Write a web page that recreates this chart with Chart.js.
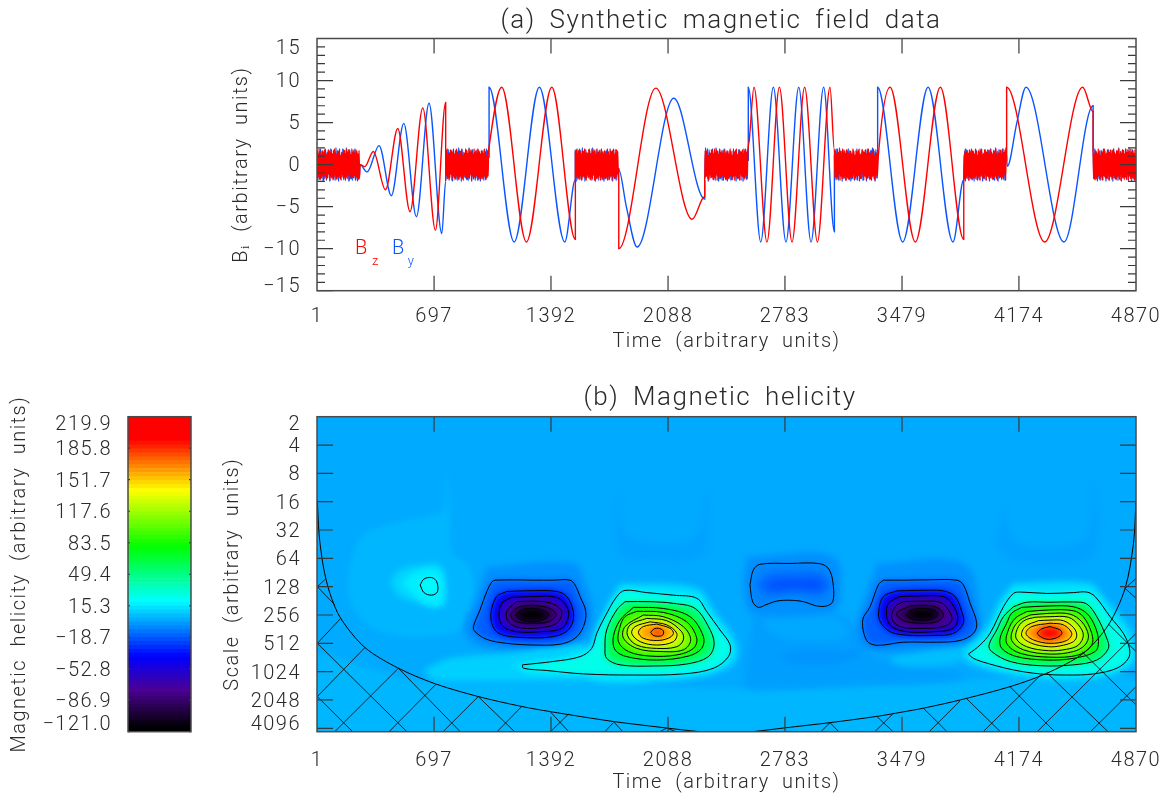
<!DOCTYPE html>
<html>
<head>
<meta charset="utf-8">
<title>Synthetic magnetic field data</title>
<script src="https://cdn.jsdelivr.net/npm/chart.js@4"></script>
<style>
  html, body { margin: 0; background: #fff; overflow: hidden; }
  canvas { position: absolute; }
  #fieldChart { left: 220px; top: 0; }
  #helicityChart { left: 205px; top: 380px; }
  #barChart { left: 0; top: 380px; }
</style>
</head>
<body>
<canvas id="fieldChart" width="1002" height="360"></canvas>
<canvas id="helicityChart" width="1030" height="415"></canvas>
<canvas id="barChart" width="205" height="415"></canvas>
<script>
// axis ticks
const timeTicks = [1, 697, 1392, 2088, 2783, 3479, 4174, 4870];
const fieldTicks = [-15, -10, -5, 0, 5, 10, 15];
const fieldMinor = [-14, -13, -12, -11, -9, -8, -7, -6, -4, -3, -2, -1, 1, 2, 3, 4, 6, 7, 8, 9, 11, 12, 13, 14];
const octaveTicks = [1, 2, 3, 4, 5, 6, 7, 8, 9, 10, 11, 12];
const scaleLabels = ['2', '4', '8', '16', '32', '64', '128', '256', '512', '1024', '2048', '4096'];
const barTicks = [-121.0, -86.9, -52.8, -18.7, 15.3, 49.4, 83.5, 117.6, 151.7, 185.8, 219.9];

// colour table
const stopValues = [-121, -117, -76, -40, 20, 79, 140, 195, 220];
const stopR = [0, 0, 75, 0, 0, 0, 255, 255, 255];
const stopG = [0, 0, 0, 0, 255, 255, 255, 0, 0];
const stopB = [0, 0, 150, 255, 255, 0, 0, 0, 0];
const barEdges = [-121, -116.8, -112.5, -108.3, -104, -99.8, -95.5, -91.3, -87, -82.8, -78.5, -74.3, -70, -65.8, -61.5, -57.3, -53, -48.8, -44.5, -40.3, -36, -31.8, -27.5, -23.3, -19, -14.8, -10.5, -6.3, -2, 2.3, 6.5, 10.8, 15, 19.3, 23.5, 27.8, 32, 36.3, 40.5, 44.8, 49, 53.3, 57.5, 61.8, 66, 70.3, 74.5, 78.8, 83, 87.3, 91.5, 95.8, 100, 104.3, 108.5, 112.8, 117, 121.3, 125.5, 129.8, 134, 138.3, 142.5, 146.8, 151, 155.3, 159.5, 163.8, 168, 172.3, 176.5, 180.8, 185, 189.3, 193.5, 197.8, 202, 206.3, 210.5, 215.2, 219.9];

// panel (a): the quiet stretches
const noiseBz = [1.6, -1.7, 1.3, -1.5, 1.9, -1.2, 1.6, -1.8, 1.1, -1.6, 1.7, -1.4, 1.5, -1.9, 1.7, -1.3, 1.9, -1.5, 1.2, -1.7, 1.4, -1.6, 1.8, -1.1, 1.6, -1.9, 1.5, -1.4, 1.8, -1.5, 1.3, -1.8, 1.7, -1.6, 1.9, -1.3, 1.5, -1.7, 1.2, -1.8, 1.7, -1.5, 1.6, -1.4, 1.9, -1.7, 1.1, -1.9, 1.5, -1.2, 1.4, -1.6, 1.8, -1.5, 1.7, -1.8, 1.3, -1.5, 1.9, -1.7, 1.5, -1.1, 1.8, -1.9, 1.6, -1.4, 1.2, -1.7, 1.9, -1.5, 1.5, -1.6, 1.7, -1.3, 1.4, -1.9, 1.8, -1.5, 1.6, -1.7, 1.3, -1.8, 1.7, -1.5];
const noiseBy = [1.7, -1.9, 1.2, -1.8, 1.9, -1.4, 1.6, -2.0, 1.0, -1.7, 1.8, -1.9, 1.5, -1.2, 1.7, -2.0, 1.9, -1.6, 1.3, -1.8, 1.7, -1.9, 2.0, -1.1, 1.6, -2.0, 1.8, -1.6, 1.1, -1.5, 1.9, -1.8, 1.4, -1.9, 2.0, -1.3, 1.6, -2.0, 1.8, -1.7, 1.2, -1.9, 1.7, -1.6, 1.9, -1.8, 1.5, -2.0, 1.0, -1.7];
const noiseStarts = [1, 766, 1537, 2306, 3077, 3846, 4615];
const noiseEnds = [257, 1024, 1795, 2565, 3334, 4101, 4870];

// panel (a): the wave trains, [time, value]
const bzWave1 = [[257, 0], [285, -0.24], [336, 1.55], [408, -3.0], [481, 4.3], [554, -5.6], [630, 6.75], [705, -7.8], [766, 7.4]];
const bzWave2 = [[1024, 2.1], [1099, 9.2], [1246, -9.2], [1397, 9.2], [1537, -8.9]];
const bzWave3 = [[1795, -0.5], [1795, -10.0], [2015, 9.1], [2231, -6.5], [2306, -3.8]];
const bzWave4 = [[2571, 2.9], [2599, 9.2], [2676, -9.2], [2750, 9.2], [2825, -9.2], [2900, 9.2], [2976, -9.2], [3051, 9.2], [3077, 1.7]];
const bzWave5 = [[3338, 1.0], [3408, 9.2], [3558, -9.2], [3707, 9.2], [3846, -8.9]];
const bzWave6 = [[4101, 0.5], [4101, 9.2], [4327, -9.2], [4553, 9.2], [4615, 6.3]];
const byWave1 = [[257, 0], [299, -0.87], [370, 2.26], [443, -3.7], [517, 4.9], [592, -6.2], [667, 7.3], [743, -8.2], [766, -2.0]];
const byWave2 = [[1024, 0.9], [1024, 9.2], [1173, -9.2], [1323, 9.2], [1474, -9.2], [1537, -1.8]];
const byWave3 = [[1795, -0.6], [1840, -5.0], [1904, -9.8], [2122, 7.9], [2306, -4.1]];
const byWave4 = [[2565, 0.5], [2565, 9.2], [2639, -9.2], [2714, 9.2], [2789, -9.2], [2865, 9.2], [2938, -9.2], [3013, 9.2], [3077, -8.0]];
const byWave5 = [[3334, 0.5], [3334, 9.2], [3483, -9.2], [3634, 9.2], [3782, -9.2], [3846, -1.8]];
const byWave6 = [[4105, -0.2], [4161, 4.9], [4216, 9.2], [4442, -9.2], [4615, 7.0]];
const bzWaves = [bzWave1, bzWave2, bzWave3, bzWave4, bzWave5, bzWave6];
const byWaves = [byWave1, byWave2, byWave3, byWave4, byWave5, byWave6];

// panel (b): closed contours, [time, log2 of scale]
const ringA0 = [[1059, 6.77], [1168, 6.76], [1287, 6.77], [1406, 6.77], [1505, 6.77], [1535, 6.94], [1565, 7.35], [1599, 7.88], [1585, 8.41], [1535, 8.82], [1446, 9.03], [1287, 9.06], [1129, 9.0], [1010, 8.86], [941, 8.59], [931, 8.41], [970, 7.82], [1010, 7.18], [1040, 6.83]];
const ringA1 = [[1129, 7.17], [1287, 7.14], [1426, 7.17], [1486, 7.35], [1525, 7.88], [1515, 8.35], [1466, 8.65], [1367, 8.79], [1248, 8.8], [1129, 8.74], [1069, 8.59], [1040, 8.29], [1036, 7.88], [1069, 7.35]];
const ringA2 = [[1159, 7.38], [1287, 7.35], [1426, 7.38], [1486, 7.71], [1496, 8.06], [1456, 8.47], [1327, 8.59], [1188, 8.59], [1109, 8.41], [1083, 8.06], [1099, 7.59]];
const ringA3 = [[1188, 7.53], [1287, 7.51], [1396, 7.59], [1456, 7.88], [1426, 8.29], [1327, 8.45], [1208, 8.45], [1139, 8.24], [1129, 7.88]];
const ringA4 = [[1287, 7.65], [1387, 7.77], [1422, 8.0], [1377, 8.24], [1287, 8.29], [1188, 8.24], [1153, 8.0], [1198, 7.73]];
const ringA5 = [[1184, 8.0], [1218, 7.82], [1277, 7.77], [1337, 7.82], [1377, 8.0], [1337, 8.18], [1277, 8.24], [1218, 8.18]];
const ringS = [[614, 6.94], [637, 6.73], [683, 6.68], [713, 6.83], [717, 7.18], [683, 7.3], [637, 7.21]];
const ringB0 = [[1222, 9.76], [1406, 9.64], [1565, 9.47], [1634, 9.18], [1664, 8.65], [1713, 8.06], [1783, 7.35], [1832, 7.13], [1961, 7.21], [2120, 7.3], [2259, 7.41], [2318, 7.88], [2397, 8.53], [2457, 9.06], [2447, 9.47], [2358, 9.88], [2179, 10.08], [1882, 10.12], [1585, 10.08], [1367, 9.96], [1228, 9.88]];
const ringB1 = [[1832, 7.53], [1981, 7.53], [2120, 7.59], [2249, 7.77], [2328, 8.41], [2362, 9.0], [2328, 9.47], [2199, 9.73], [2001, 9.8], [1803, 9.76], [1723, 9.53], [1713, 9.18], [1723, 8.53], [1783, 7.82]];
const ringB2 = [[1882, 7.73], [2060, 7.77], [2219, 8.06], [2298, 8.76], [2288, 9.18], [2209, 9.45], [2021, 9.59], [1842, 9.47], [1773, 9.23], [1763, 8.76], [1803, 8.18]];
const ringB3 = [[1902, 7.87], [2060, 7.91], [2199, 8.24], [2259, 8.82], [2239, 9.18], [2140, 9.41], [1981, 9.45], [1852, 9.29], [1793, 8.94], [1803, 8.41], [1832, 8.06]];
const ringB4 = [[1941, 8.0], [2060, 8.06], [2179, 8.41], [2223, 8.88], [2179, 9.23], [2041, 9.29], [1902, 9.18], [1823, 8.82], [1832, 8.41]];
const ringB5 = [[1961, 8.12], [2080, 8.2], [2169, 8.59], [2179, 8.88], [2140, 9.12], [2021, 9.18], [1902, 9.06], [1846, 8.71], [1862, 8.35]];
const ringB6 = [[1981, 8.24], [2080, 8.35], [2140, 8.65], [2120, 8.94], [2021, 9.06], [1922, 8.94], [1872, 8.65], [1892, 8.41]];
const ringB7 = [[2021, 8.32], [2100, 8.47], [2120, 8.65], [2090, 8.82], [2021, 8.9], [1941, 8.82], [1912, 8.61], [1941, 8.41]];
const ringB8 = [[1985, 8.61], [2005, 8.49], [2031, 8.47], [2060, 8.56], [2056, 8.71], [2025, 8.75], [1997, 8.71]];
const ringC0 = [[3874, 9.38], [3943, 9.06], [4002, 8.65], [4082, 7.71], [4141, 7.24], [4181, 7.19], [4339, 7.24], [4498, 7.21], [4577, 7.19], [4627, 7.35], [4716, 8.06], [4795, 8.65], [4831, 9.18], [4825, 9.53], [4756, 9.88], [4617, 10.08], [4458, 10.12], [4300, 10.08], [4141, 9.94], [3983, 9.7], [3903, 9.53]];
const ringC1 = [[4141, 7.71], [4220, 7.55], [4359, 7.55], [4498, 7.54], [4577, 7.61], [4637, 8.06], [4696, 8.82], [4706, 9.18], [4637, 9.59], [4498, 9.76], [4300, 9.79], [4121, 9.64], [4012, 9.29], [3996, 9.06], [4042, 8.53], [4082, 8.06]];
const ringC2 = [[4191, 7.73], [4359, 7.68], [4498, 7.71], [4577, 7.94], [4627, 8.41], [4647, 8.94], [4627, 9.29], [4498, 9.53], [4339, 9.59], [4161, 9.47], [4072, 9.18], [4062, 8.82], [4101, 8.29], [4131, 7.94]];
const ringC3 = [[4220, 7.88], [4359, 7.82], [4498, 7.85], [4557, 8.06], [4607, 8.65], [4607, 9.06], [4528, 9.41], [4359, 9.49], [4181, 9.35], [4101, 9.0], [4111, 8.53], [4151, 8.12]];
const ringC4 = [[4240, 8.0], [4359, 7.94], [4478, 7.97], [4548, 8.24], [4587, 8.71], [4567, 9.06], [4498, 9.29], [4359, 9.38], [4201, 9.23], [4131, 8.9], [4141, 8.47], [4181, 8.18]];
const ringC5 = [[4270, 8.08], [4359, 8.06], [4468, 8.08], [4528, 8.35], [4557, 8.71], [4528, 9.06], [4458, 9.21], [4349, 9.26], [4220, 9.12], [4157, 8.82], [4171, 8.41], [4211, 8.18]];
const ringC6 = [[4290, 8.2], [4359, 8.18], [4438, 8.2], [4498, 8.44], [4518, 8.71], [4498, 8.94], [4419, 9.09], [4349, 9.12], [4250, 9.0], [4191, 8.74], [4211, 8.41]];
const ringC7 = [[4359, 8.29], [4438, 8.35], [4488, 8.65], [4458, 8.9], [4359, 9.0], [4260, 8.88], [4216, 8.65], [4250, 8.41]];
const ringC8 = [[4359, 8.41], [4419, 8.53], [4429, 8.65], [4403, 8.79], [4349, 8.86], [4310, 8.79], [4284, 8.65], [4310, 8.49]];
const ringD0 = [[3368, 6.77], [3487, 6.77], [3626, 6.76], [3804, 6.77], [3844, 6.94], [3884, 7.59], [3923, 8.29], [3903, 8.65], [3824, 8.9], [3685, 8.96], [3487, 8.96], [3329, 9.07], [3269, 8.9], [3245, 8.18], [3289, 7.71], [3338, 6.94]];
const ringD1 = [[3447, 7.15], [3586, 7.13], [3725, 7.15], [3794, 7.35], [3834, 7.88], [3844, 8.29], [3784, 8.65], [3665, 8.72], [3507, 8.71], [3408, 8.59], [3350, 8.24], [3340, 7.88], [3368, 7.35]];
const ringD2 = [[3467, 7.35], [3586, 7.33], [3725, 7.35], [3774, 7.59], [3810, 8.06], [3784, 8.47], [3665, 8.59], [3507, 8.59], [3418, 8.41], [3388, 8.06], [3398, 7.59]];
const ringD3 = [[3487, 7.53], [3606, 7.51], [3705, 7.55], [3755, 7.82], [3775, 8.18], [3725, 8.41], [3586, 8.47], [3467, 8.41], [3418, 8.12], [3438, 7.71]];
const ringD4 = [[3527, 7.68], [3606, 7.66], [3685, 7.73], [3725, 8.0], [3685, 8.24], [3586, 8.29], [3487, 8.2], [3447, 7.94]];
const ringD5 = [[3503, 7.98], [3537, 7.82], [3596, 7.77], [3665, 7.82], [3691, 7.98], [3656, 8.14], [3596, 8.19], [3537, 8.14]];
const ringE0 = [[2575, 6.94], [2595, 6.41], [2635, 6.21], [2813, 6.18], [2992, 6.19], [3047, 6.41], [3071, 7.0], [3067, 7.53], [3031, 7.68], [2972, 7.68], [2893, 7.53], [2813, 7.48], [2734, 7.51], [2665, 7.65], [2625, 7.73], [2591, 7.53]];

// panel (b): shading that carries no contour line
const shadeE1 = [[2615, 6.94], [2694, 6.53], [2833, 6.5], [2992, 6.53], [3051, 6.94], [2992, 7.3], [2833, 7.22], [2674, 7.3]];
const shadeE2 = [[2665, 6.94], [2754, 6.76], [2853, 6.76], [2972, 6.76], [3011, 6.94], [2972, 7.1], [2853, 7.05], [2714, 7.1]];
const shadeBottom = [[1, 9.3], [600, 10.3], [1500, 10.4], [2400, 10.6], [3400, 10.5], [3900, 10.3], [4870, 10.3], [4870, 13], [1, 13]];
const shadeLeft = [[187, 7.24], [197, 6.3], [267, 5.24], [455, 4.77], [693, 4.48], [752, 4.3], [768, 2.77], [792, 4.42], [802, 5.83], [891, 6.18], [931, 7.0], [891, 8.41], [613, 8.76], [356, 8.53], [237, 7.94]];
const shadeH1 = [[435, 6.83], [495, 6.41], [614, 6.24], [732, 6.24], [762, 6.77], [762, 7.59], [693, 7.73], [594, 7.53], [495, 7.35]];
const shadeH2 = [[505, 6.88], [574, 6.53], [673, 6.36], [742, 6.53], [752, 7.12], [742, 7.59], [673, 7.65], [584, 7.35]];
const shadeP1 = [[1793, 3.24], [1803, 4.65], [1852, 5.24], [2001, 5.47], [2179, 5.47], [2278, 5.0], [2314, 3.6], [2328, 5.12], [2278, 5.94], [2001, 6.06], [1803, 5.83]];
const shadeP2 = [[4092, 4.18], [4121, 5.12], [4220, 5.59], [4478, 5.59], [4587, 5.12], [4617, 3.24], [4647, 5.12], [4577, 6.06], [4141, 6.06], [4042, 5.47]];
const shadeAH = [[1010, 6.3], [1525, 6.18], [1605, 7.0], [1644, 7.94], [1605, 8.76], [1446, 9.23], [1169, 9.29], [931, 9.0], [871, 8.41], [950, 7.35]];
const shadeDH = [[3329, 6.18], [3844, 6.18], [3943, 7.94], [3903, 8.88], [3685, 9.18], [3329, 9.29], [3210, 8.88], [3229, 7.94]];
const shadeEH = [[2556, 5.94], [3071, 5.94], [3110, 7.59], [3031, 7.94], [2595, 7.94], [2536, 7.0]];
const shadeBand = [[633, 9.94], [792, 9.53], [1129, 9.35], [1604, 9.06], [1981, 10.29], [1486, 10.35], [891, 10.35], [693, 10.29]];
const shadeBand2 = [[1149, 9.76], [1406, 9.59], [1624, 9.23], [1684, 9.82], [1287, 10.1]];
const shadeBH = [[1803, 6.88], [2258, 7.06], [2358, 7.82], [2496, 9.0], [2477, 9.7], [2278, 10.18], [1882, 10.35], [1624, 10.17], [1644, 8.88], [1723, 7.71]];
const shadeCH = [[4141, 6.88], [4597, 6.88], [4676, 7.35], [4835, 8.53], [4865, 9.6], [4756, 10.06], [4478, 10.29], [4141, 10.12], [3884, 9.7], [3844, 9.35], [3983, 8.41], [4062, 7.47]];
const shadeLight = [[3408, 9.47], [3626, 9.18], [3923, 9.0], [3844, 9.6], [3586, 9.82], [3428, 9.7]];
const shadeDark = [[2754, 9.41], [2893, 9.23], [3150, 9.26], [3249, 9.18], [3170, 9.59], [2992, 9.76], [2793, 9.65]];
const shadeLowerMid = [[2595, 7.94], [3150, 8.06], [3249, 9.12], [3388, 9.59], [3824, 10.0], [3824, 10.29], [3190, 10.47], [2595, 10.64], [2536, 10.41]];
const shadePatch = [[2674, 7.94], [2972, 7.94], [3150, 8.41], [3130, 8.82], [2853, 8.88], [2674, 8.53]];

// cone of influence and its hatching [t1, o1, t2, o2]
const coneLine = [[3, 3.95], [13, 5.12], [39, 6.3], [78, 7.24], [142, 8.12], [286, 9.15], [485, 9.88], [709, 10.44], [960, 10.88], [1218, 11.23], [1387, 11.41], [1763, 11.76], [2080, 11.99], [2259, 12.11], [2430, 12.2], [2605, 12.11], [2774, 11.99], [3051, 11.8], [3329, 11.58], [3477, 11.43], [3606, 11.29], [3824, 11.0], [4121, 10.53], [4339, 10.06], [4557, 9.35], [4706, 8.35], [4805, 7.06], [4855, 5.47], [4870, 3.95]];
const hatchLines = [
  [3, 7.0, 108, 7.65], [3, 9.0, 534, 12.11], [3, 10.88, 211, 12.11], [485, 9.88, 851, 12.11], [960, 10.88, 1174, 12.11], [1387, 11.41, 1496, 12.11], [1763, 11.76, 1817, 12.11], [2080, 11.99, 2130, 12.11],
  [3, 7.0, 55, 6.71], [3, 9.0, 142, 8.12], [3, 10.88, 286, 9.15], [108, 12.11, 485, 9.88], [431, 12.11, 709, 10.44], [752, 12.11, 960, 10.88], [1073, 12.11, 1218, 11.23], [1391, 12.11, 1496, 11.5], [1714, 12.11, 1763, 11.8], [2041, 12.11, 2080, 11.99],
  [2998, 12.11, 3051, 11.8], [3319, 12.11, 3428, 11.47], [3642, 12.11, 3824, 11.03], [3963, 12.11, 4310, 10.08], [4805, 7.06, 4870, 6.71], [4284, 12.11, 4870, 8.65], [4601, 12.11, 4870, 10.53],
  [3051, 11.8, 3101, 12.11], [3329, 11.58, 3424, 12.11], [3606, 11.29, 3745, 12.11], [3864, 10.96, 4062, 12.11], [4121, 10.53, 4385, 12.11], [4339, 10.03, 4702, 12.11], [4548, 9.29, 4870, 11.17], [4706, 8.32, 4870, 9.29], [4805, 7.06, 4870, 7.41]
];

// [shape, helicity level], drawn in this order
const fieldBaseLevel = 0;
const fieldShapes = [
  [shadeBottom, 3], [shadeLeft, 3], [shadeP1, -2], [shadeP2, -2], [shadeLowerMid, -2.5], [shadePatch, -0.5], [shadeLight, 5], [shadeDark, -5],
  [shadeH1, 10], [shadeH2, 16], [ringS, 19],
  [shadeAH, -6], [shadeDH, -6], [shadeEH, -6],
  [shadeBand, 9], [shadeBand2, 14], [shadeBH, 12], [shadeCH, 12],
  [ringE0, -9], [shadeE1, -15], [shadeE2, -21],
  [ringA0, -18], [ringA1, -42], [ringA2, -62], [ringA3, -78], [ringA4, -92], [ringA5, -118],
  [ringD0, -18], [ringD1, -42], [ringD2, -62], [ringD3, -78], [ringD4, -92], [ringD5, -118],
  [ringB0, 25], [ringB1, 55], [ringB2, 78], [ringB3, 95], [ringB4, 110], [ringB5, 125], [ringB6, 142], [ringB7, 160], [ringB8, 182],
  [ringC0, 25], [ringC1, 55], [ringC2, 78], [ringC3, 95], [ringC4, 110], [ringC5, 125], [ringC6, 142], [ringC7, 165], [ringC8, 205]
];
const contourRings = [ringS, ringE0, ringA0, ringA1, ringA2, ringA3, ringA4, ringA5, ringD0, ringD1, ringD2, ringD3, ringD4, ringD5, ringB0, ringB1, ringB2, ringB3, ringB4, ringB5, ringB6, ringB7, ringB8, ringC0, ringC1, ringC2, ringC3, ringC4, ringC5, ringC6, ringC7, ringC8];

const FONT = 'Roboto';
const INK = '#2a2a2a';
const RED = '#ff0000';
const BLUE = '#0a55ff';

function tickFont(size, endLines) {
  return ctx => ({ family: FONT, weight: 300, size: size, lineHeight: endLines[ctx.index] || 1.2 });
}
function titleOpts(text, top, bottom) {
  return { display: true, text: text, color: INK, padding: { top: top, bottom: bottom }, font: { family: FONT, weight: 300, size: 26, lineHeight: 1.2 } };
}
function axisTitle(text, top, bottom) {
  return { display: true, text: text, color: INK, padding: { top: top, bottom: bottom }, font: { family: FONT, weight: 300, size: 20, lineHeight: 1.2 } };
}
function levelColor(v) {
  let i = 0;
  while (i < stopValues.length - 2 && v > stopValues[i + 1]) i++;
  const f = Math.min(1, Math.max(0, (v - stopValues[i]) / (stopValues[i + 1] - stopValues[i])));
  const mix = a => Math.round(a[i] + (a[i + 1] - a[i]) * f);
  return `rgb(${mix(stopR)},${mix(stopG)},${mix(stopB)})`;
}
function closed(ring) {
  const pts = ring.map(p => ({ x: p[0], y: p[1] }));
  pts.push(pts[0]);
  return pts;
}

// frame and inward tick marks, on the chart's own scales
function framePlugin(marks) {
  return {
    id: 'frame',
    afterDraw(chart) {
      const { ctx, chartArea: a } = chart;
      const xs = chart.scales.x, ys = chart.scales.y;
      ctx.save();
      ctx.strokeStyle = '#3a3a3a';
      ctx.lineWidth = marks.width || 1.2;
      ctx.beginPath();
      (marks.x || []).forEach(v => {
        const px = xs.getPixelForValue(v);
        ctx.moveTo(px, a.top); ctx.lineTo(px, a.top + marks.xLen);
        ctx.moveTo(px, a.bottom); ctx.lineTo(px, a.bottom - marks.xLen);
      });
      (marks.y || []).forEach(v => {
        const py = ys.getPixelForValue(v);
        ctx.moveTo(a.left, py); ctx.lineTo(a.left + marks.yLen, py);
        ctx.moveTo(a.right, py); ctx.lineTo(a.right - marks.yLen, py);
      });
      (marks.yMinor || []).forEach(v => {
        const py = ys.getPixelForValue(v);
        ctx.moveTo(a.left, py); ctx.lineTo(a.left + marks.yLen / 2, py);
        ctx.moveTo(a.right, py); ctx.lineTo(a.right - marks.yLen / 2, py);
      });
      ctx.stroke();
      ctx.strokeStyle = '#4a4a4a';
      ctx.lineWidth = 1.5;
      ctx.strokeRect(a.left, a.top, a.right - a.left, a.bottom - a.top);
      ctx.restore();
    }
  };
}
const spacedText = {
  id: 'spacedText',
  beforeDraw(chart) {
    chart.ctx.letterSpacing = '1.5px';
    chart.ctx.wordSpacing = '6px';
  }
};

// ---------- panel (a) ----------
function buildSeries(noise, waves, shift) {
  const pts = [];
  noiseStarts.forEach((start, s) => {
    const step = (noiseEnds[s] - start) / noise.length;
    noise.forEach((_, i) => {
      pts.push({ x: start + i * step, y: noise[(i + s * shift) % noise.length] });
    });
    if (waves[s]) waves[s].forEach(p => pts.push({ x: p[0], y: p[1] }));
  });
  return pts;
}

const legendTexts = [
  { text: 'B', x: 227, y: -10, size: 20, color: RED },
  { text: 'z', x: 328, y: -11.6, size: 13, color: RED },
  { text: 'B', x: 447, y: -10, size: 20, color: BLUE },
  { text: 'y', x: 541, y: -11.6, size: 13, color: BLUE }
];
const legendPlugin = {
  id: 'inlineLegend',
  afterDatasetsDraw(chart) {
    const { ctx, scales } = chart;
    ctx.save();
    ctx.textBaseline = 'middle';
    legendTexts.forEach(t => {
      ctx.font = `300 ${t.size}px ${FONT}`;
      ctx.fillStyle = t.color;
      ctx.fillText(t.text, scales.x.getPixelForValue(t.x), scales.y.getPixelForValue(t.y));
    });
    ctx.restore();
  }
};

new Chart(document.getElementById('fieldChart'), {
  type: 'line',
  data: {
    datasets: [
      { label: 'Bz', data: buildSeries(noiseBz, bzWaves, 13), borderColor: RED, borderWidth: 1.4, pointRadius: 0, cubicInterpolationMode: 'monotone' },
      { label: 'By', data: buildSeries(noiseBy, byWaves, 7), borderColor: BLUE, borderWidth: 1.4, pointRadius: 0, cubicInterpolationMode: 'monotone' }
    ]
  },
  options: {
    responsive: false,
    animation: false,
    events: [],
    plugins: {
      legend: { display: false },
      tooltip: { enabled: false },
      title: titleOpts('(a) Synthetic magnetic field data', 6, 1.3)
    },
    scales: {
      x: {
        type: 'linear', min: 1, max: 4870,
        grid: { display: false }, border: { display: false },
        afterBuildTicks: s => { s.ticks = timeTicks.map(v => ({ value: v })); },
        afterFit: s => { s.height = 69.3; s.paddingRight = 86; },
        ticks: { color: INK, padding: 6, maxRotation: 0, autoSkip: false, font: { family: FONT, weight: 300, size: 20 }, callback: v => String(v) },
        title: { ...axisTitle('Time (arbitrary units)', 0, 6), align: 'center' }
      },
      y: {
        min: -15, max: 15,
        grid: { display: false }, border: { display: false },
        afterBuildTicks: s => { s.ticks = fieldTicks.map(v => ({ value: v })); },
        afterFit: s => { s.width = 97; },
        ticks: {
          color: INK, padding: 8, labelOffset: 1.5, autoSkip: false,
          font: tickFont(20, { 0: 0.5, 6: 0.85 }),
          callback: v => {
            const t = v < 0 ? '\u2212' + Math.abs(v) : String(v);
            if (v === 15) return ['', t];
            if (v === -15) return [t, ''];
            return t;
          }
        },
        title: axisTitle('B\u1d62 (arbitrary units)', 10, 0)
      }
    }
  },
  plugins: [spacedText, legendPlugin, framePlugin({ x: timeTicks.slice(1, -1), xLen: 15, y: fieldTicks, yLen: 16, yMinor: fieldMinor })]
});

// ---------- panel (b) ----------
const contourDatasets = contourRings.map(r => ({
  data: closed(r), showLine: true, borderColor: '#000', borderWidth: 1, pointRadius: 0, tension: 0.35, fill: false
}));
const hatchPoints = [];
hatchLines.forEach(h => {
  hatchPoints.push({ x: h[0], y: h[1] }, { x: h[2], y: h[3] }, { x: NaN, y: NaN });
});
const lineDatasets = [
  ...contourDatasets,
  { data: coneLine.map(p => ({ x: p[0], y: p[1] })), showLine: true, borderColor: '#000', borderWidth: 1, pointRadius: 0, tension: 0.3, fill: false },
  { data: hatchPoints, showLine: true, borderColor: '#111', borderWidth: 0.9, pointRadius: 0, fill: false }
];
const fieldDatasets = fieldShapes.map(s => ({
  data: closed(s[0]), showLine: true, borderWidth: 0, borderColor: 'rgba(0,0,0,0)', pointRadius: 0, tension: 0.35,
  fill: 'shape', backgroundColor: levelColor(s[1])
})).reverse();

// the filled shapes go down through a soft filter, the lines stay sharp
const softField = {
  id: 'softField',
  beforeDatasetsDraw(chart) {
    const { ctx, chartArea: a } = chart;
    ctx.fillStyle = levelColor(fieldBaseLevel);
    ctx.fillRect(a.left, a.top, a.right - a.left, a.bottom - a.top);
    ctx.filter = 'blur(3px)';
  },
  afterDatasetDraw(chart, args) {
    if (args.index === lineDatasets.length) chart.ctx.filter = 'none';
  }
};

new Chart(document.getElementById('helicityChart'), {
  type: 'scatter',
  data: { datasets: [...lineDatasets, ...fieldDatasets] },
  options: {
    responsive: false,
    animation: false,
    events: [],
    plugins: {
      legend: { display: false },
      tooltip: { enabled: false },
      title: titleOpts('(b) Magnetic helicity', 3, 2.5)
    },
    scales: {
      x: {
        type: 'linear', min: 1, max: 4870,
        grid: { display: false }, border: { display: false },
        afterBuildTicks: s => { s.ticks = timeTicks.map(v => ({ value: v })); },
        afterFit: s => { s.height = 63.3; s.paddingRight = 99; },
        ticks: { color: INK, padding: 9, maxRotation: 0, autoSkip: false, font: { family: FONT, weight: 300, size: 20 }, callback: v => String(v) },
        title: axisTitle('Time (arbitrary units)', 0, 0)
      },
      y: {
        type: 'linear', min: 1, max: 12.12, reverse: true,
        grid: { display: false }, border: { display: false },
        afterBuildTicks: s => { s.ticks = octaveTicks.map(v => ({ value: v })); },
        afterFit: s => { s.width = 112; },
        ticks: {
          color: INK, padding: 8, labelOffset: 2, autoSkip: false,
          font: tickFont(20, { 0: 0.6, 11: 0.5 }),
          callback: (v, i) => {
            if (i === 0) return ['', scaleLabels[i]];
            if (i === 11) return [scaleLabels[i], ''];
            return scaleLabels[i];
          }
        },
        title: axisTitle('Scale (arbitrary units)', 16, 0)
      }
    }
  },
  plugins: [spacedText, softField, framePlugin({ x: timeTicks.slice(1, -1), xLen: 15, y: octaveTicks.slice(1), yLen: 16 })]
});

// ---------- colour bar ----------
const bandDatasets = barEdges.slice(0, -1).map((lo, i) => ({
  data: [[lo, barEdges[i + 1]]],
  backgroundColor: levelColor((lo + barEdges[i + 1]) / 2),
  barPercentage: 1, categoryPercentage: 1, borderWidth: 0
}));

new Chart(document.getElementById('barChart'), {
  type: 'bar',
  data: { labels: [''], datasets: bandDatasets },
  options: {
    responsive: false,
    animation: false,
    events: [],
    layout: { padding: { top: 36.7, right: 14, bottom: 63.3, left: 0 } },
    plugins: { legend: { display: false }, tooltip: { enabled: false } },
    scales: {
      x: { display: false, stacked: true },
      y: {
        min: -121, max: 219.9,
        grid: { display: false }, border: { display: false },
        afterBuildTicks: s => { s.ticks = barTicks.map(v => ({ value: v })); },
        afterFit: s => { s.width = 128; },
        ticks: {
          color: INK, padding: 8, labelOffset: 2, autoSkip: false,
          font: tickFont(20, { 0: 0.85, 10: 0.63 }),
          callback: (v, i) => {
            const t = v < 0 ? '\u2212' + Math.abs(v).toFixed(1) : v.toFixed(1);
            if (i === 10) return ['', t];
            if (i === 0) return [t, ''];
            return t;
          }
        },
        title: axisTitle('Magnetic helicity (arbitrary units)', 8, 0)
      }
    }
  },
  plugins: [spacedText, framePlugin({ x: [], xLen: 0, y: barTicks, yLen: 2 })]
});
</script>
</body>
</html>
